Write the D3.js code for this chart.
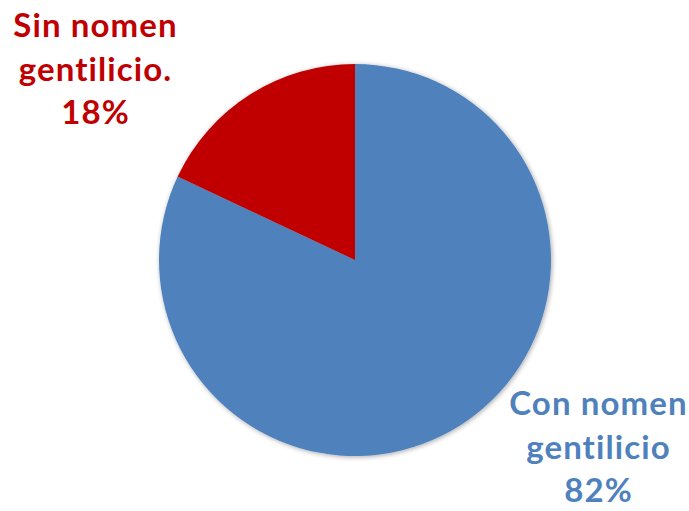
<!DOCTYPE html>
<html><head><meta charset="utf-8">
<script src="https://cdn.jsdelivr.net/npm/d3@7"></script>
<style>body{margin:0;background:#fff}</style>
</head><body>
<svg id="chart" width="689" height="511"></svg>
<script>
const categories = ["Con nomen gentilicio", "Sin nomen gentilicio."];
const values = [82, 18];
const colors = ["#4F81BD", "#C00000"];
const labelLines = [["Con nomen", "gentilicio", "82%"], ["Sin nomen", "gentilicio.", "18%"]];

const svg = d3.select("#chart");
const cx = 355, cy = 260, r = 196;
const defs = svg.append("defs");
const f = defs.append("filter").attr("id", "sh").attr("x", "-10%").attr("y", "-10%").attr("width", "120%").attr("height", "120%");
f.append("feGaussianBlur").attr("in", "SourceAlpha").attr("stdDeviation", 2.5).attr("result", "b");
f.append("feOffset").attr("in", "b").attr("dx", 1).attr("dy", 1).attr("result", "o");
f.append("feComponentTransfer").attr("in", "o").attr("result", "o2").append("feFuncA").attr("type", "linear").attr("slope", 0.35);
const m = f.append("feMerge"); m.append("feMergeNode").attr("in", "o2"); m.append("feMergeNode").attr("in", "SourceGraphic");

const pie = d3.pie().sort(null).value(d => d)(values);
const arc = d3.arc().innerRadius(0).outerRadius(r);
const g = svg.append("g").attr("transform", `translate(${cx},${cy})`).attr("filter", "url(#sh)");
g.selectAll("path").data(pie).join("path").attr("d", arc).attr("fill", (d, i) => colors[i]);

const labelPos = [{x: 598, y: 415}, {x: 95, y: 37}];
labelLines.forEach((lines, i) => {
  const t = svg.append("text").attr("text-anchor", "middle")
    .attr("font-family", "Lato, 'Open Sans', sans-serif").attr("font-weight", "bold")
    .attr("font-size", 33).attr("letter-spacing", 1.1)
    .style("font-variant-ligatures", "none").style("font-feature-settings", "'liga' 0")
    .attr("fill", colors[i]);
  lines.forEach((s, j) => t.append("tspan").attr("x", labelPos[i].x + 0.5).attr("y", labelPos[i].y + j * 43.5).text(s));
});
</script>
</body></html>
